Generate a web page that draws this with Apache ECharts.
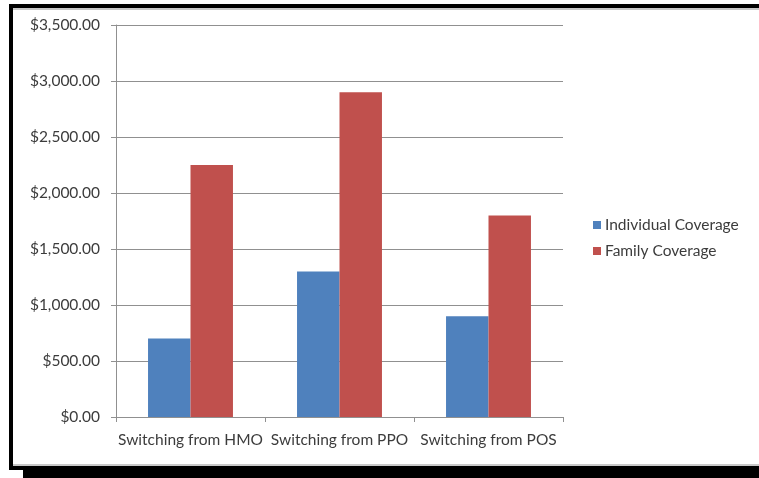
<!DOCTYPE html>
<html>
<head>
<meta charset="utf-8">
<script src="https://cdn.jsdelivr.net/npm/echarts@6/dist/echarts.min.js"></script>
<style>
  html, body { margin: 0; padding: 0; background: #ffffff; }
  #chart { width: 759px; height: 478px; }
</style>
</head>
<body>
<div id="chart"></div>
<script>
// Plan categories and annual savings per coverage type
const categories = ['Switching from HMO', 'Switching from PPO', 'Switching from POS'];
const individualCoverage = [700, 1300, 900];
const familyCoverage = [2250, 2900, 1800];
const seriesNames = ['Individual Coverage', 'Family Coverage'];

const fontFamily = 'Lato, "Open Sans", sans-serif';
const textColor = '#3c3c3c';
const lineColor = '#909090';

const chart = echarts.init(document.getElementById('chart'), null, { renderer: 'canvas' });

chart.setOption({
  backgroundColor: '#ffffff',
  animation: false,
  grid: { left: 116, right: 196, top: 25, bottom: 61, containLabel: false },
  legend: {
    orient: 'vertical',
    left: 588,
    top: 212,
    itemWidth: 8,
    itemHeight: 8,
    itemGap: 10,
    icon: 'rect',
    textStyle: { fontFamily, fontSize: 15.5, color: textColor, padding: [0, 0, 0, -1] },
    data: seriesNames
  },
  xAxis: {
    type: 'category',
    data: categories,
    axisLine: { lineStyle: { color: lineColor, width: 1 } },
    axisTick: { show: true, length: 5, lineStyle: { color: lineColor } },
    axisLabel: { interval: 0, fontFamily, fontSize: 15.5, color: textColor, margin: 15 }
  },
  yAxis: {
    type: 'value',
    min: 0,
    max: 3500,
    interval: 500,
    axisLine: { show: true, lineStyle: { color: lineColor, width: 1 } },
    axisTick: { show: true, length: 5, lineStyle: { color: lineColor } },
    axisLabel: {
      fontFamily, fontSize: 15.5, color: textColor, margin: 16,
      formatter: v => '$' + v.toLocaleString('en-US', { minimumFractionDigits: 2, maximumFractionDigits: 2 })
    },
    splitLine: { show: true, lineStyle: { color: lineColor, width: 1 } }
  },
  series: [
    {
      name: seriesNames[0],
      type: 'bar',
      data: individualCoverage,
      barGap: '0%',
      barCategoryGap: '43%',
      itemStyle: { color: '#4F81BD' }
    },
    {
      name: seriesNames[1],
      type: 'bar',
      data: familyCoverage,
      barGap: '0%',
      barCategoryGap: '43%',
      itemStyle: { color: '#C0504D' }
    }
  ],
  graphic: [
    // picture frame: black border with drop shadow on the bottom edge
    { type: 'rect', shape: { x: 9, y: 4, width: 750, height: 4 }, style: { fill: '#000' } },
    { type: 'rect', shape: { x: 9, y: 4, width: 4, height: 466 }, style: { fill: '#000' } },
    { type: 'rect', shape: { x: 9, y: 466, width: 750, height: 4 }, style: { fill: '#000' } },
    { type: 'rect', shape: { x: 23, y: 466, width: 736, height: 12 }, style: { fill: '#000' } },
    { type: 'rect', shape: { x: 13, y: 8, width: 746, height: 2 }, style: { fill: '#c8c8c8' } },
    { type: 'rect', shape: { x: 13, y: 464, width: 746, height: 2 }, style: { fill: '#c8c8c8' } }
  ]
});
</script>
</body>
</html>
